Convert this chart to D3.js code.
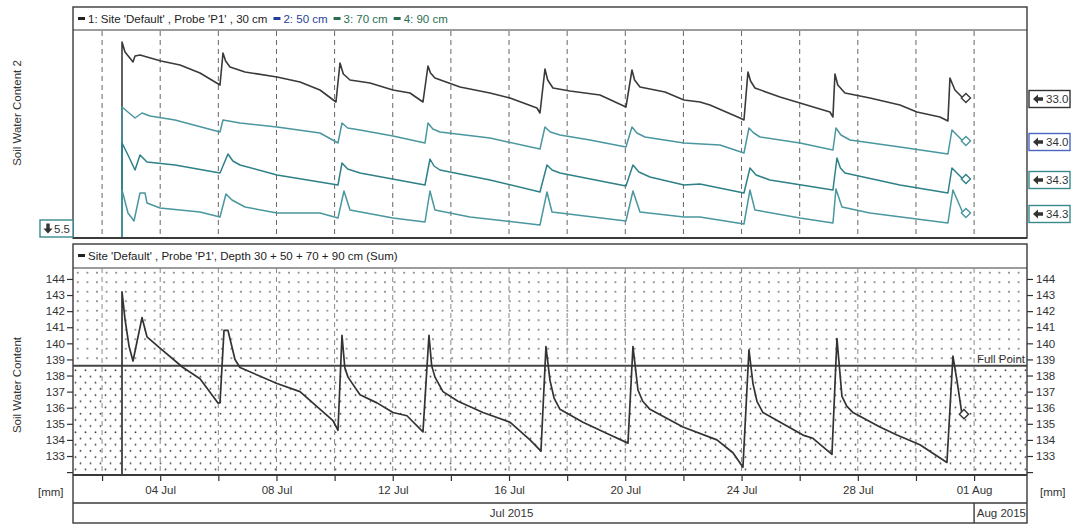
<!DOCTYPE html>
<html><head><meta charset="utf-8">
<script src="https://cdn.jsdelivr.net/npm/d3@7"></script>
<style>
body{margin:0;background:#fff;}
svg{display:block;font-family:"Liberation Sans",Arial,sans-serif;}
</style></head><body>
<svg id="chart" width="1072" height="524"></svg>
<script>
// Readings as [day of July (decimal, 32 = 01 Aug), value]
const probe30 = [[2.680,5.5],[2.686,35.80],[2.789,35.30],[3.064,34.80],[3.133,35.10],[3.305,35.15],[4.027,34.85],[4.681,34.65],[5.369,34.25],[6.057,33.65],[6.160,35.25],[6.250,34.85],[6.401,34.55],[6.917,34.30],[8.018,34.05],[8.809,33.80],[9.497,33.40],[10.047,32.80],[10.185,34.75],[10.300,34.20],[10.529,33.90],[11.217,33.75],[12.008,33.40],[12.593,33.25],[13.040,32.80],[13.212,34.60],[13.300,34.25],[13.453,34.00],[14.313,33.55],[15.345,33.25],[16.033,33.00],[16.962,32.50],[17.065,32.25],[17.237,34.45],[17.330,33.90],[17.512,33.50],[18.097,33.35],[19.129,33.15],[20.023,32.55],[20.230,34.40],[20.320,33.90],[20.505,33.55],[21.365,33.30],[22.018,32.90],[22.569,32.80],[22.913,32.65],[23.945,32.00],[24.083,31.90],[24.220,34.30],[24.310,33.85],[24.461,33.50],[25.321,33.05],[26.009,32.75],[27.041,32.30],[27.144,32.05],[27.213,34.20],[27.310,33.65],[27.557,33.25],[28.417,33.00],[29.449,32.65],[30.034,32.30],[30.825,32.05],[31.100,31.85],[31.169,34.00],[31.341,33.40],[31.616,33.00]];
const probe50 = [[2.680,5.5],[2.686,35.70],[3.133,35.15],[3.374,35.40],[3.649,35.25],[4.509,35.05],[6.057,34.45],[6.160,35.05],[6.745,34.90],[8.018,34.70],[9.497,34.40],[10.116,33.90],[10.254,34.90],[10.450,34.65],[10.873,34.55],[12.008,34.25],[13.109,33.90],[13.212,34.90],[13.380,34.60],[13.625,34.45],[15.345,34.15],[17.065,33.60],[17.237,34.70],[17.420,34.45],[17.753,34.30],[18.785,34.05],[20.023,33.70],[20.230,34.70],[20.400,34.40],[20.677,34.20],[22.018,33.90],[23.257,33.80],[24.083,33.40],[24.255,34.65],[24.420,34.40],[24.633,34.20],[26.009,33.90],[27.144,33.55],[27.247,34.65],[27.420,34.30],[27.729,34.05],[29.449,33.70],[31.100,33.35],[31.238,34.55],[31.616,34.00]];
const probe70 = [[2.680,5.5],[2.686,36.10],[2.892,35.50],[3.133,34.75],[3.305,35.50],[3.546,35.15],[4.509,35.00],[6.057,34.60],[6.332,35.55],[6.500,35.20],[6.745,35.00],[8.018,34.50],[10.116,34.00],[10.254,35.10],[10.450,34.80],[10.873,34.60],[13.109,34.00],[13.281,35.30],[13.420,34.95],[13.625,34.75],[15.345,34.25],[17.065,33.65],[17.306,35.00],[17.480,34.75],[17.753,34.60],[20.023,33.95],[20.264,35.00],[20.470,34.65],[20.849,34.40],[22.018,34.00],[22.569,34.05],[24.083,33.60],[24.289,34.85],[24.500,34.50],[24.977,34.25],[27.144,33.75],[27.282,35.35],[27.400,34.85],[27.557,34.60],[29.449,34.00],[31.100,33.60],[31.238,34.85],[31.616,34.30]];
const probe90 = [[2.680,5.5],[2.686,35.45],[2.892,34.30],[3.098,33.90],[3.305,35.30],[3.477,35.30],[3.546,34.80],[3.993,34.55],[5.369,34.35],[6.057,34.10],[6.263,35.25],[6.470,34.95],[6.917,34.60],[8.018,34.30],[9.497,34.30],[10.116,34.05],[10.322,35.40],[10.529,34.45],[12.008,34.05],[13.109,33.85],[13.281,35.40],[13.453,34.45],[14.657,34.10],[17.065,33.70],[17.306,35.35],[17.478,34.35],[20.023,33.90],[20.264,35.40],[20.505,34.35],[22.018,34.10],[22.569,34.10],[24.083,33.75],[24.289,35.45],[24.461,34.45],[26.009,34.05],[27.144,33.80],[27.247,35.50],[27.454,34.60],[28.417,34.30],[31.100,33.80],[31.272,35.45],[31.616,34.30]];
const profileSum = [[2.680,22],[2.686,143.2],[2.789,141.5],[2.930,139.8],[3.064,138.9],[3.374,141.6],[3.546,140.4],[3.993,139.7],[4.784,138.5],[5.369,137.8],[5.988,136.3],[6.057,136.3],[6.195,140.8],[6.332,140.8],[6.573,139.0],[6.745,138.5],[8.018,137.5],[8.809,137.0],[9.944,135.2],[10.116,134.6],[10.254,140.5],[10.350,138.5],[10.460,137.9],[10.873,136.8],[11.457,136.3],[12.008,135.7],[12.489,135.5],[13.040,134.5],[13.246,140.5],[13.340,138.6],[13.453,137.9],[13.728,137.0],[14.244,136.4],[15.104,135.7],[16.033,135.1],[16.721,134.0],[17.099,133.3],[17.271,139.8],[17.409,137.7],[17.550,136.6],[17.753,135.9],[18.544,135.1],[19.370,134.4],[20.092,133.8],[20.264,139.8],[20.436,137.1],[20.600,136.4],[20.849,135.9],[21.984,134.8],[23.153,134.0],[23.704,133.2],[24.048,132.3],[24.255,139.6],[24.392,137.5],[24.530,136.4],[24.736,135.7],[25.424,135.0],[26.112,134.3],[26.456,134.1],[27.110,133.1],[27.282,140.3],[27.454,136.7],[27.620,136.1],[27.832,135.7],[28.761,134.8],[29.346,134.3],[30.137,133.7],[31.066,132.6],[31.272,139.2],[31.410,137.7],[31.582,135.6]];

const seriesNames = ["1: Site 'Default' , Probe 'P1' , 30 cm", "2: 50 cm", "3: 70 cm", "4: 90 cm"];
const legendColors = ["#222222", "#1f3f9a", "#2a6e52", "#2a6e52"];
const lineColors = ["#3a3a3a", "#4a979f", "#2f8088", "#4a979f"];
const badgeColors = ["#333333", "#4a64c4", "#3a8a8c", "#3a8a8c"];
// per-probe display ranges for the stacked upper panel
const probeRanges = [[26.0, 36.35], [29.15, 39.5], [31.35, 41.7], [33.05, 43.4]];
const minReading = 5.5;
const sumTicks = d3.range(132, 145);
const fullPoint = 138.6;
const gridDays = d3.range(2, 33, 2);
const labelDays = [4, 8, 12, 16, 20, 24, 28, 32];
const months = [{label: "Jul 2015", from: 1, to: 32}, {label: "Aug 2015", from: 32, to: 33.82}];

const julyDate = d => new Date(2015, 6, 1, 0, 0, 0).getTime() + (d - 1) * 86400000;

const svg = d3.select("#chart");
const L = 73, R = 1027;
const T = {y0: 7, leg: 30, p0: 31, p1: 238};
const B = {y0: 244, p0: 268, p1: 475, ax: 503, y1: 523};

const x = d3.scaleTime().domain([julyDate(1), julyDate(33.82)]).range([L, R]);
const yTop = probeRanges.map(r => d3.scaleLinear().domain(r).range([T.p1, T.p0]));
const yB = d3.scaleLinear().domain([131.82, 144.68]).range([B.p1, B.p0]);

const defs = svg.append("defs");
defs.append("clipPath").attr("id", "clipTop").append("rect")
  .attr("x", L).attr("y", T.p0).attr("width", R - L).attr("height", T.p1 - T.p0);
defs.append("clipPath").attr("id", "clipBot").append("rect")
  .attr("x", L).attr("y", B.p0).attr("width", R - L).attr("height", B.p1 - B.p0);
const sparse = defs.append("pattern").attr("id", "sparse").attr("patternUnits", "userSpaceOnUse")
  .attr("x", L).attr("y", B.p0).attr("width", 9.6).attr("height", 9.5);
sparse.append("circle").attr("cx", 4.8).attr("cy", 4.7).attr("r", 0.85).attr("fill", "#555");
const dense = defs.append("pattern").attr("id", "dense").attr("patternUnits", "userSpaceOnUse")
  .attr("x", L).attr("y", B.p0).attr("width", 10).attr("height", 12.4);
dense.append("circle").attr("cx", 2.5).attr("cy", 3).attr("r", 0.95).attr("fill", "#444");
dense.append("circle").attr("cx", 7.5).attr("cy", 9.2).attr("r", 0.95).attr("fill", "#444");

const frame = "#3a3a3a";
// bold arrow glyphs used in the value badges
const arrowLeft = "M0,0 L5,-4.6 L5,-1.7 L10,-1.7 L10,1.7 L5,1.7 L5,4.6 Z";
const arrowDown = "M0,0 L-4.6,-5 L-1.7,-5 L-1.7,-10 L1.7,-10 L1.7,-5 L4.6,-5 Z";

// ---------- upper panel: individual probes ----------
svg.append("rect").attr("x", L).attr("y", T.y0).attr("width", R - L).attr("height", T.p1 - T.y0)
  .attr("fill", "#fff").attr("stroke", frame).attr("stroke-width", 1.4);
svg.append("line").attr("x1", L).attr("x2", R).attr("y1", T.leg).attr("y2", T.leg)
  .attr("stroke", frame).attr("stroke-width", 1.2);

// legend
let lx = L + 5;
seriesNames.forEach((name, i) => {
  svg.append("rect").attr("x", lx).attr("y", 17).attr("width", 7).attr("height", 3).attr("fill", legendColors[i]);
  const t = svg.append("text").attr("x", lx + 10).attr("y", 22.5).attr("font-size", 11.5)
    .attr("fill", legendColors[i]).text(name);
  lx += 10 + t.node().getComputedTextLength() + 6;
});

svg.append("g").selectAll("line").data(gridDays).join("line")
  .attr("x1", d => x(julyDate(d))).attr("x2", d => x(julyDate(d)))
  .attr("y1", T.p0).attr("y2", T.p1)
  .attr("stroke", "#666").attr("stroke-width", 1).attr("stroke-dasharray", "5,4");

const topG = svg.append("g").attr("clip-path", "url(#clipTop)");
[probe30, probe50, probe70, probe90].forEach((s, i) => {
  const line = d3.line().x(d => x(julyDate(d[0]))).y(d => yTop[i](d[1]));
  topG.append("path").datum(s).attr("d", line).attr("fill", "none")
    .attr("stroke", lineColors[i]).attr("stroke-width", i === 0 ? 1.6 : 1.5).attr("stroke-linejoin", "round");
});
[probe30, probe50, probe70, probe90].forEach((s, i) => {
  const last = s[s.length - 1];
  svg.append("path").attr("d", d3.symbol(d3.symbolSquare, 42)())
    .attr("transform", `translate(${x(julyDate(last[0])) + 3},${yTop[i](last[1])}) rotate(45)`)
    .attr("fill", "#fff").attr("stroke", lineColors[i]).attr("stroke-width", 1.4);
  const cy = yTop[i](last[1]) + 1;
  svg.append("rect").attr("x", 1029).attr("y", cy - 8.5).attr("width", 41).attr("height", 17)
    .attr("fill", "#fff").attr("stroke", badgeColors[i]).attr("stroke-width", 1.4);
  svg.append("path").attr("d", arrowLeft).attr("transform", `translate(1033,${cy})`).attr("fill", "#333");
  svg.append("text").attr("x", 1046).attr("y", cy + 4).attr("font-size", 11.5).attr("fill", "#333")
    .text(d3.format(".1f")(last[1]));
});
svg.append("line").attr("x1", L).attr("x2", R).attr("y1", T.p1).attr("y2", T.p1)
  .attr("stroke", frame).attr("stroke-width", 2);

// minimum reading badge
svg.append("rect").attr("x", 40).attr("y", 220).attr("width", 33).attr("height", 17)
  .attr("fill", "#fff").attr("stroke", "#3a8a8c").attr("stroke-width", 1.4);
svg.append("path").attr("d", arrowDown).attr("transform", "translate(48,233.5)").attr("fill", "#333");
svg.append("text").attr("x", 54).attr("y", 232.5).attr("font-size", 11.5).attr("fill", "#333")
  .text(minReading);

svg.append("text").attr("transform", "translate(21,113) rotate(-90)").attr("text-anchor", "middle")
  .attr("font-size", 11.5).attr("fill", "#333").text("Soil Water Content 2");

// ---------- lower panel: profile sum ----------
svg.append("rect").attr("x", L).attr("y", B.y0).attr("width", R - L).attr("height", B.y1 - B.y0)
  .attr("fill", "#fff").attr("stroke", frame).attr("stroke-width", 1.4);
svg.append("line").attr("x1", L).attr("x2", R).attr("y1", B.p0).attr("y2", B.p0).attr("stroke", frame).attr("stroke-width", 1.2);
svg.append("rect").attr("x", L + 5).attr("y", 254).attr("width", 7).attr("height", 3).attr("fill", "#222");
svg.append("text").attr("x", L + 15).attr("y", 259.5).attr("font-size", 11.5).attr("fill", "#222")
  .text("Site 'Default' , Probe 'P1', Depth 30 + 50 + 70 + 90 cm (Sum)");

svg.append("rect").attr("x", L).attr("y", B.p0).attr("width", R - L).attr("height", yB(fullPoint) - B.p0)
  .attr("fill", "url(#sparse)");
svg.append("rect").attr("x", L).attr("y", yB(fullPoint)).attr("width", R - L).attr("height", B.p1 - yB(fullPoint))
  .attr("fill", "url(#dense)");

svg.append("g").selectAll("line").data(gridDays).join("line")
  .attr("x1", d => x(julyDate(d))).attr("x2", d => x(julyDate(d)))
  .attr("y1", B.p0).attr("y2", B.p1)
  .attr("stroke", "#888").attr("stroke-width", 1).attr("stroke-dasharray", "5,4");

svg.append("line").attr("x1", L).attr("x2", R).attr("y1", yB(fullPoint)).attr("y2", yB(fullPoint))
  .attr("stroke", "#444").attr("stroke-width", 2);
svg.append("text").attr("x", R - 2).attr("y", yB(fullPoint) - 3).attr("text-anchor", "end")
  .attr("font-size", 11.5).attr("fill", "#333").text("Full Point");

const sumLine = d3.line().x(d => x(julyDate(d[0]))).y(d => yB(d[1]));
svg.append("g").attr("clip-path", "url(#clipBot)").append("path").datum(profileSum)
  .attr("d", sumLine).attr("fill", "none").attr("stroke", "#333").attr("stroke-width", 1.7)
  .attr("stroke-linejoin", "round");
const lastSum = profileSum[profileSum.length - 1];
svg.append("path").attr("d", d3.symbol(d3.symbolSquare, 42)())
  .attr("transform", `translate(${x(julyDate(lastSum[0])) + 2},${yB(lastSum[1])}) rotate(45)`)
  .attr("fill", "#fff").attr("stroke", "#333").attr("stroke-width", 1.4);

// y axes
const tickFmt = d => d === 132 ? "" : d;
const yl = svg.append("g").attr("transform", `translate(${L},0)`)
  .call(d3.axisLeft(yB).tickValues(sumTicks).tickSize(6).tickPadding(2).tickFormat(tickFmt));
const yr = svg.append("g").attr("transform", `translate(${R},0)`)
  .call(d3.axisRight(yB).tickValues(sumTicks).tickSize(6).tickPadding(3).tickFormat(tickFmt));
[yl, yr].forEach(g => {
  g.select(".domain").remove();
  g.selectAll("line").attr("stroke", "#333").attr("stroke-width", 1.2);
  g.selectAll("text").attr("font-size", 11.5).attr("fill", "#333").attr("font-family", "Liberation Sans, Arial, sans-serif");
});
svg.append("line").attr("x1", L).attr("x2", R).attr("y1", B.p1).attr("y2", B.p1).attr("stroke", frame).attr("stroke-width", 2);

svg.append("text").attr("transform", "translate(21,385) rotate(-90)").attr("text-anchor", "middle")
  .attr("font-size", 11.5).attr("fill", "#333").text("Soil Water Content");

// time axis
const dayFmt = d3.timeFormat("%d %b");
const xa = svg.append("g").attr("transform", `translate(0,${B.p1})`)
  .call(d3.axisBottom(x).tickValues(gridDays.map(julyDate).map(t => new Date(t))).tickSize(6).tickPadding(5)
    .tickFormat(d => labelDays.some(v => julyDate(v) === +d) ? dayFmt(d) : ""));
xa.select(".domain").remove();
xa.selectAll("line").attr("stroke", "#333").attr("stroke-width", 1.2);
xa.selectAll("text").attr("font-size", 11.5).attr("fill", "#333").attr("font-family", "Liberation Sans, Arial, sans-serif");

svg.append("line").attr("x1", L).attr("x2", R).attr("y1", B.ax).attr("y2", B.ax).attr("stroke", frame).attr("stroke-width", 1.4);
months.forEach((m, i) => {
  const a = x(julyDate(m.from)), b = Math.min(R, x(julyDate(m.to)));
  if (i > 0) svg.append("line").attr("x1", a).attr("x2", a).attr("y1", B.ax).attr("y2", B.y1).attr("stroke", frame).attr("stroke-width", 1.4);
  svg.append("text").attr("x", i === 0 ? (a + b) / 2 - 12 : b - 1).attr("y", 517)
    .attr("text-anchor", i === 0 ? "middle" : "end").attr("font-size", 11.5).attr("fill", "#333").text(m.label);
});
svg.append("text").attr("x", 38).attr("y", 496).attr("font-size", 11.5).attr("fill", "#333").text("[mm]");
svg.append("text").attr("x", 1040).attr("y", 496).attr("font-size", 11.5).attr("fill", "#333").text("[mm]");
</script>
</body></html>
